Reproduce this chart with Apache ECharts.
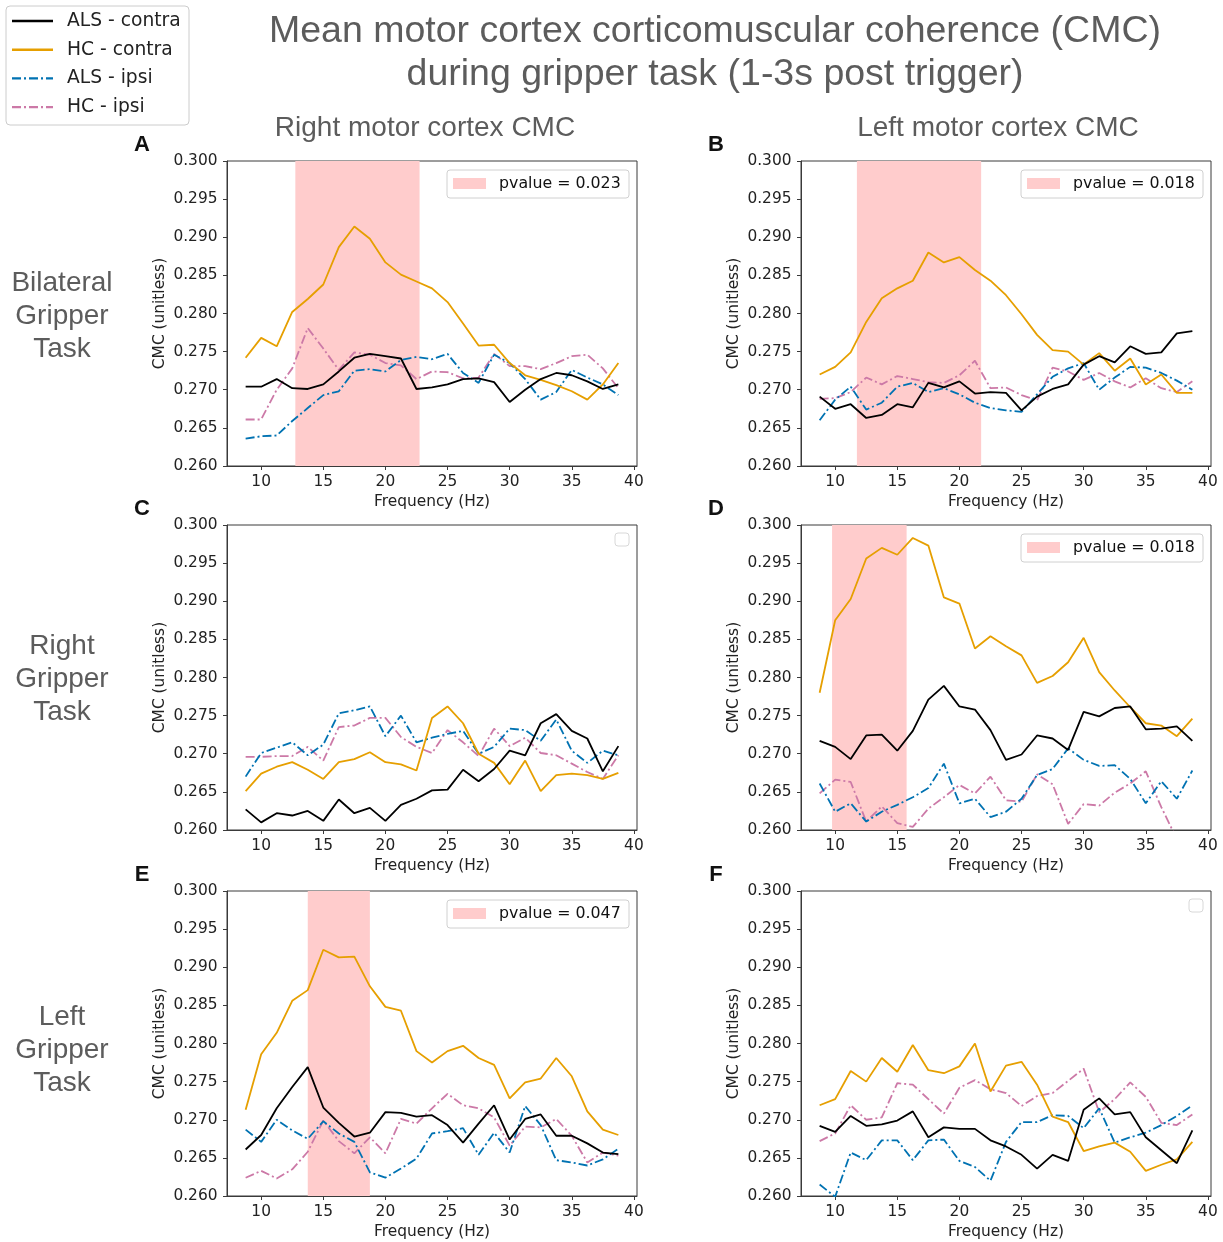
<!DOCTYPE html>
<html>
<head>
<meta charset="utf-8">
<script src="https://cdn.jsdelivr.net/npm/echarts@6/dist/echarts.min.js"></script>
<style>
  html, body { margin: 0; padding: 0; background: #ffffff; }
  #chart { width: 1223px; height: 1242px; }
</style>
</head>
<body>
<div id="chart"></div>
<script>
// Frequency bins (Hz)
const freqs = [8.75, 10, 11.25, 12.5, 13.75, 15, 16.25, 17.5, 18.75, 20, 21.25, 22.5, 23.75,
               25, 26.25, 27.5, 28.75, 30, 31.25, 32.5, 33.75, 35, 36.25, 37.5, 38.75];

const xTicks = [10, 15, 20, 25, 30, 35, 40];

// A: bilateral gripper task, right motor cortex
const aAlsContra = [0.2704, 0.2704, 0.2714, 0.2702, 0.2701, 0.2707, 0.2724, 0.2742, 0.2747, 0.2744, 0.2741, 0.2701, 0.2703,
                    0.2707, 0.2714, 0.2715, 0.2710, 0.2684, 0.2700, 0.2714, 0.2722, 0.2719, 0.2711, 0.2701, 0.2707];
const aHcContra  = [0.2742, 0.2768, 0.2757, 0.2802, 0.2819, 0.2838, 0.2887, 0.2914, 0.2898, 0.2867, 0.2851, 0.2842, 0.2833,
                    0.2815, 0.2787, 0.2758, 0.2759, 0.2735, 0.2719, 0.2713, 0.2706, 0.2698, 0.2687, 0.2707, 0.2735];
const aAlsIpsi   = [0.2636, 0.2639, 0.2640, 0.2659, 0.2676, 0.2693, 0.2698, 0.2725, 0.2727, 0.2724, 0.2739, 0.2743, 0.2740,
                    0.2747, 0.2722, 0.2709, 0.2746, 0.2735, 0.2714, 0.2687, 0.2697, 0.2726, 0.2716, 0.2707, 0.2693];
const aHcIpsi    = [0.2661, 0.2661, 0.2700, 0.2728, 0.2781, 0.2754, 0.2726, 0.2749, 0.2746, 0.2735, 0.2732, 0.2714, 0.2724,
                    0.2723, 0.2715, 0.2716, 0.2747, 0.2731, 0.2731, 0.2727, 0.2735, 0.2744, 0.2746, 0.2728, 0.2702];

// B: bilateral gripper task, left motor cortex
const bAlsContra = [0.2691, 0.2675, 0.2681, 0.2663, 0.2667, 0.2681, 0.2677, 0.2709, 0.2703, 0.2711, 0.2695, 0.2697, 0.2696,
                    0.2673, 0.2691, 0.2701, 0.2707, 0.2733, 0.2744, 0.2736, 0.2757, 0.2747, 0.2749, 0.2774, 0.2777];
const bHcContra  = [0.2720, 0.2730, 0.2749, 0.2789, 0.2820, 0.2833, 0.2843, 0.2880, 0.2867, 0.2874, 0.2857, 0.2843, 0.2824,
                    0.2799, 0.2772, 0.2752, 0.2750, 0.2733, 0.2748, 0.2725, 0.2741, 0.2707, 0.2720, 0.2696, 0.2696];
const bAlsIpsi   = [0.2660, 0.2687, 0.2704, 0.2674, 0.2683, 0.2704, 0.2709, 0.2697, 0.2702, 0.2694, 0.2683, 0.2676, 0.2673,
                    0.2671, 0.2694, 0.2717, 0.2728, 0.2735, 0.2700, 0.2716, 0.2730, 0.2729, 0.2722, 0.2712, 0.2700];
const bHcIpsi    = [0.2688, 0.2689, 0.2697, 0.2716, 0.2707, 0.2718, 0.2714, 0.2710, 0.2709, 0.2719, 0.2738, 0.2702, 0.2703,
                    0.2693, 0.2686, 0.2729, 0.2724, 0.2713, 0.2722, 0.2711, 0.2703, 0.2715, 0.2702, 0.2697, 0.2711];

// C: right gripper task, right motor cortex
const cAlsContra = [0.2627, 0.2610, 0.2622, 0.2619, 0.2625, 0.2612, 0.2640, 0.2622, 0.2629, 0.2612, 0.2633, 0.2641, 0.2652,
                    0.2653, 0.2679, 0.2664, 0.2680, 0.2704, 0.2698, 0.2740, 0.2752, 0.2730, 0.2720, 0.2677, 0.2710];
const cHcContra  = [0.2651, 0.2674, 0.2683, 0.2689, 0.2679, 0.2667, 0.2689, 0.2693, 0.2702, 0.2689, 0.2686, 0.2678, 0.2747,
                    0.2762, 0.2740, 0.2700, 0.2688, 0.2660, 0.2691, 0.2651, 0.2672, 0.2674, 0.2672, 0.2667, 0.2675];
const cAlsIpsi   = [0.2670, 0.2701, 0.2708, 0.2715, 0.2698, 0.2712, 0.2753, 0.2757, 0.2762, 0.2723, 0.2750, 0.2715, 0.2721,
                    0.2726, 0.2730, 0.2700, 0.2709, 0.2733, 0.2731, 0.2717, 0.2745, 0.2704, 0.2688, 0.2704, 0.2698];
const cHcIpsi    = [0.2696, 0.2696, 0.2697, 0.2697, 0.2709, 0.2691, 0.2735, 0.2737, 0.2747, 0.2747, 0.2722, 0.2709, 0.2701,
                    0.2731, 0.2715, 0.2697, 0.2733, 0.2710, 0.2721, 0.2701, 0.2698, 0.2687, 0.2676, 0.2667, 0.2698];

// D: right gripper task, left motor cortex
const dAlsContra = [0.2717, 0.2709, 0.2693, 0.2724, 0.2725, 0.2704, 0.2730, 0.2771, 0.2789, 0.2762, 0.2758, 0.2731, 0.2692,
                    0.2699, 0.2724, 0.2720, 0.2705, 0.2755, 0.2749, 0.2760, 0.2762, 0.2732, 0.2733, 0.2736, 0.2717];
const dHcContra  = [0.2780, 0.2875, 0.2903, 0.2956, 0.2970, 0.2961, 0.2983, 0.2973, 0.2905, 0.2897, 0.2838, 0.2854, 0.2841,
                    0.2829, 0.2793, 0.2802, 0.2820, 0.2852, 0.2807, 0.2783, 0.2761, 0.2740, 0.2737, 0.2723, 0.2746];
const dAlsIpsi   = [0.2661, 0.2624, 0.2635, 0.2611, 0.2624, 0.2633, 0.2643, 0.2655, 0.2687, 0.2635, 0.2641, 0.2617, 0.2624,
                    0.2641, 0.2672, 0.2680, 0.2707, 0.2692, 0.2684, 0.2685, 0.2667, 0.2635, 0.2664, 0.2641, 0.2678];
const dHcIpsi    = [0.2648, 0.2666, 0.2663, 0.2611, 0.2631, 0.2609, 0.2604, 0.2628, 0.2643, 0.2659, 0.2648, 0.2670, 0.2639,
                    0.2637, 0.2673, 0.2660, 0.2608, 0.2634, 0.2632, 0.2649, 0.2661, 0.2677, 0.2630, 0.2588, 0.2580];

// E: left gripper task, right motor cortex
const eAlsContra = [0.2661, 0.2680, 0.2715, 0.2743, 0.2769, 0.2716, 0.2696, 0.2678, 0.2683, 0.2710, 0.2709, 0.2704, 0.2706,
                    0.2693, 0.2670, 0.2695, 0.2719, 0.2674, 0.2701, 0.2707, 0.2679, 0.2679, 0.2669, 0.2657, 0.2655];
const eHcContra  = [0.2713, 0.2786, 0.2814, 0.2856, 0.2870, 0.2923, 0.2913, 0.2914, 0.2875, 0.2848, 0.2843, 0.2790, 0.2775,
                    0.2790, 0.2797, 0.2781, 0.2772, 0.2728, 0.2749, 0.2754, 0.2781, 0.2757, 0.2711, 0.2687, 0.2680];
const eAlsIpsi   = [0.2687, 0.2671, 0.2700, 0.2686, 0.2675, 0.2698, 0.2682, 0.2671, 0.2631, 0.2624, 0.2636, 0.2649, 0.2682,
                    0.2685, 0.2689, 0.2654, 0.2683, 0.2657, 0.2718, 0.2693, 0.2647, 0.2644, 0.2640, 0.2648, 0.2662];
const eHcIpsi    = [0.2624, 0.2633, 0.2623, 0.2635, 0.2658, 0.2699, 0.2672, 0.2656, 0.2677, 0.2656, 0.2701, 0.2695, 0.2715,
                    0.2734, 0.2719, 0.2715, 0.2703, 0.2666, 0.2691, 0.2690, 0.2701, 0.2679, 0.2644, 0.2657, 0.2653];

// F: left gripper task, left motor cortex
const fAlsContra = [0.2692, 0.2684, 0.2705, 0.2692, 0.2694, 0.2699, 0.2711, 0.2677, 0.2690, 0.2688, 0.2688, 0.2673, 0.2665,
                    0.2654, 0.2636, 0.2654, 0.2646, 0.2713, 0.2728, 0.2707, 0.2710, 0.2677, 0.2660, 0.2643, 0.2686];
const fHcContra  = [0.2719, 0.2727, 0.2764, 0.2750, 0.2781, 0.2763, 0.2798, 0.2765, 0.2761, 0.2770, 0.2800, 0.2737, 0.2771,
                    0.2776, 0.2746, 0.2704, 0.2697, 0.2659, 0.2665, 0.2670, 0.2658, 0.2633, 0.2641, 0.2648, 0.2671];
const fAlsIpsi   = [0.2615, 0.2599, 0.2657, 0.2647, 0.2673, 0.2673, 0.2647, 0.2673, 0.2674, 0.2646, 0.2638, 0.2620, 0.2671,
                    0.2697, 0.2697, 0.2706, 0.2705, 0.2689, 0.2715, 0.2670, 0.2677, 0.2683, 0.2693, 0.2705, 0.2719];
const fHcIpsi    = [0.2672, 0.2682, 0.2719, 0.2700, 0.2703, 0.2748, 0.2746, 0.2727, 0.2708, 0.2742, 0.2752, 0.2740, 0.2735,
                    0.2718, 0.2731, 0.2735, 0.2751, 0.2767, 0.2710, 0.2727, 0.2749, 0.2730, 0.2696, 0.2693, 0.2707];

// Significant frequency bands and their p-values (null = no band)
const panelLetters = ['A', 'B', 'C', 'D', 'E', 'F'];
const bands   = [[12.75, 22.75], [11.75, 21.75], null, [9.75, 15.75], [13.75, 18.75], null];
const pValues = [0.023, 0.018, null, 0.018, 0.047, null];

const groupNames = ['ALS - contra', 'HC - contra', 'ALS - ipsi', 'HC - ipsi'];
const panelSeries = [
  [aAlsContra, aHcContra, aAlsIpsi, aHcIpsi],
  [bAlsContra, bHcContra, bAlsIpsi, bHcIpsi],
  [cAlsContra, cHcContra, cAlsIpsi, cHcIpsi],
  [dAlsContra, dHcContra, dAlsIpsi, dHcIpsi],
  [eAlsContra, eHcContra, eAlsIpsi, eHcIpsi],
  [fAlsContra, fHcContra, fAlsIpsi, fHcIpsi]
];

const columnTitles = ['Right motor cortex CMC', 'Left motor cortex CMC'];
const rowTitles = ['Bilateral\nGripper\nTask', 'Right\nGripper\nTask', 'Left\nGripper\nTask'];

// ---- styling & layout ----
const groupColors = ['#000000', '#E69F00', '#0072B2', '#CC79A7'];
const dashDot = [9, 3, 2, 3];
const groupDash = ['solid', 'solid', dashDot, dashDot];
const lineW = 1.8;
const tickFont = 'DejaVu Sans';
const tickSize = 15.4;
const headFont = '"Liberation Sans"';
const headColor = '#5c5c5c';

const colLeft = [227, 801];
const rowTop = [161, 525, 891];
const gridW = 410, gridH = 305;

const grids = [], xAxes = [], yAxes = [], series = [], graphics = [];

for (let p = 0; p < 6; p++) {
  const col = p % 2, row = Math.floor(p / 2);
  const gl = colLeft[col], gt = rowTop[row];
  grids.push({
    left: gl, top: gt, width: gridW, height: gridH,
    show: true, borderColor: '#3a3a3a', borderWidth: 1, backgroundColor: 'transparent'
  });
  xAxes.push({
    type: 'value', gridIndex: p, min: 7.25, max: 40.25,
    name: 'Frequency (Hz)', nameLocation: 'middle', nameGap: 28,
    nameTextStyle: { fontFamily: tickFont, fontSize: tickSize, color: '#222' },
    axisLine: { show: true, onZero: false, lineStyle: { color: '#3a3a3a' } },
    axisTick: { show: true, length: 4, lineStyle: { color: '#3a3a3a' }, customValues: xTicks },
    axisLabel: { fontFamily: tickFont, fontSize: tickSize, color: '#222', margin: 8, customValues: xTicks },
    splitLine: { show: false }
  });
  yAxes.push({
    type: 'value', gridIndex: p, min: 0.26, max: 0.30, interval: 0.005,
    name: 'CMC (unitless)', nameLocation: 'middle', nameGap: 60, nameRotate: 90,
    nameTextStyle: { fontFamily: tickFont, fontSize: tickSize, color: '#222' },
    axisLine: { show: true, lineStyle: { color: '#3a3a3a' } },
    axisTick: { show: true, length: 4, lineStyle: { color: '#3a3a3a' } },
    axisLabel: { fontFamily: tickFont, fontSize: tickSize, color: '#222', margin: 9.5,
                 formatter: v => v.toFixed(3) },
    splitLine: { show: false }
  });

  // shaded significant band, drawn underneath the curves
  if (bands[p]) {
    series.push({
      type: 'line', name: 'band' + p, xAxisIndex: p, yAxisIndex: p, z: 1,
      data: [], symbol: 'none', silent: true,
      markArea: {
        silent: true,
        itemStyle: { color: '#ffcccc' },
        data: [[{ xAxis: bands[p][0] }, { xAxis: bands[p][1] }]]
      }
    });
  }

  panelSeries[p].forEach((vals, g) => {
    series.push({
      type: 'line', name: groupNames[g], xAxisIndex: p, yAxisIndex: p,
      z: 3 + (3 - g), symbol: 'none', showSymbol: false, animation: false, clip: true,
      lineStyle: { color: groupColors[g], width: lineW, type: groupDash[g] },
      itemStyle: { color: groupColors[g] },
      data: freqs.map((f, i) => [f, vals[i]])
    });
  });

  // panel letter
  graphics.push({
    type: 'text', style: {
      x: gl - 85, y: gt - 16, text: panelLetters[p], textAlign: 'center', textVerticalAlign: 'middle',
      font: 'bold 22px ' + headFont, fill: '#111'
    }
  });

  // in-panel legend box for the shaded band
  const bx = gl + gridW - 8 - 182, by = gt + 9;
  if (pValues[p] !== null) {
    graphics.push({
      type: 'rect', shape: { x: bx, y: by, width: 182, height: 28, r: 3 },
      style: { fill: 'rgba(255,255,255,0.8)', stroke: '#d0d0d0', lineWidth: 1 }, z: 50
    });
    graphics.push({
      type: 'rect', shape: { x: bx + 6, y: by + 8, width: 33, height: 11 },
      style: { fill: '#ffcccc' }, z: 51
    });
    graphics.push({
      type: 'text', z: 51, style: {
        x: bx + 52, y: by + 14, text: 'pvalue = ' + pValues[p].toFixed(3),
        textVerticalAlign: 'middle', font: '15.8px "DejaVu Sans"', fill: '#111'
      }
    });
  } else {
    graphics.push({
      type: 'rect', shape: { x: gl + gridW - 22, y: gt + 8, width: 14, height: 13, r: 3 },
      style: { fill: '#ffffff', stroke: '#d8d8d8', lineWidth: 1 }, z: 50
    });
  }
}

// column headings
columnTitles.forEach((t, i) => {
  graphics.push({
    type: 'text', style: {
      x: [425, 998][i], y: 128, text: t, textAlign: 'center', textVerticalAlign: 'middle',
      font: '28px ' + headFont, fill: headColor
    }
  });
});

// row headings
rowTitles.forEach((t, i) => {
  graphics.push({
    type: 'text', style: {
      x: 62, y: [316, 679, 1050][i], text: t, textAlign: 'center', textVerticalAlign: 'middle',
      font: '28px ' + headFont, fill: headColor, lineHeight: 33
    }
  });
});

// main title
graphics.push({
  type: 'text', style: {
    x: 715, y: 53, text: 'Mean motor cortex corticomuscular coherence (CMC)\nduring gripper task (1-3s post trigger)',
    textAlign: 'center', textVerticalAlign: 'middle',
    font: '37.5px ' + headFont, fill: headColor, lineHeight: 43
  }
});

// figure legend for the four groups
graphics.push({
  type: 'rect', shape: { x: 6, y: 6, width: 183, height: 119, r: 4 },
  style: { fill: '#ffffff', stroke: '#cccccc', lineWidth: 1 }, z: 50
});
groupNames.forEach((n, g) => {
  const y = 21 + g * 28.7;
  graphics.push({
    type: 'line', z: 51, shape: { x1: 12, y1: y, x2: 53, y2: y },
    style: { stroke: groupColors[g], lineWidth: 2.4, lineDash: g >= 2 ? dashDot : null }
  });
  graphics.push({
    type: 'text', z: 51, style: {
      x: 67, y: y, text: n, textVerticalAlign: 'middle',
      font: '18.7px "DejaVu Sans"', fill: '#222'
    }
  });
});

const chart = echarts.init(document.getElementById('chart'), null, { renderer: 'canvas' });
chart.setOption({
  animation: false,
  backgroundColor: '#ffffff',
  grid: grids,
  xAxis: xAxes,
  yAxis: yAxes,
  series: series,
  graphic: { elements: graphics }
});
</script>
</body>
</html>
